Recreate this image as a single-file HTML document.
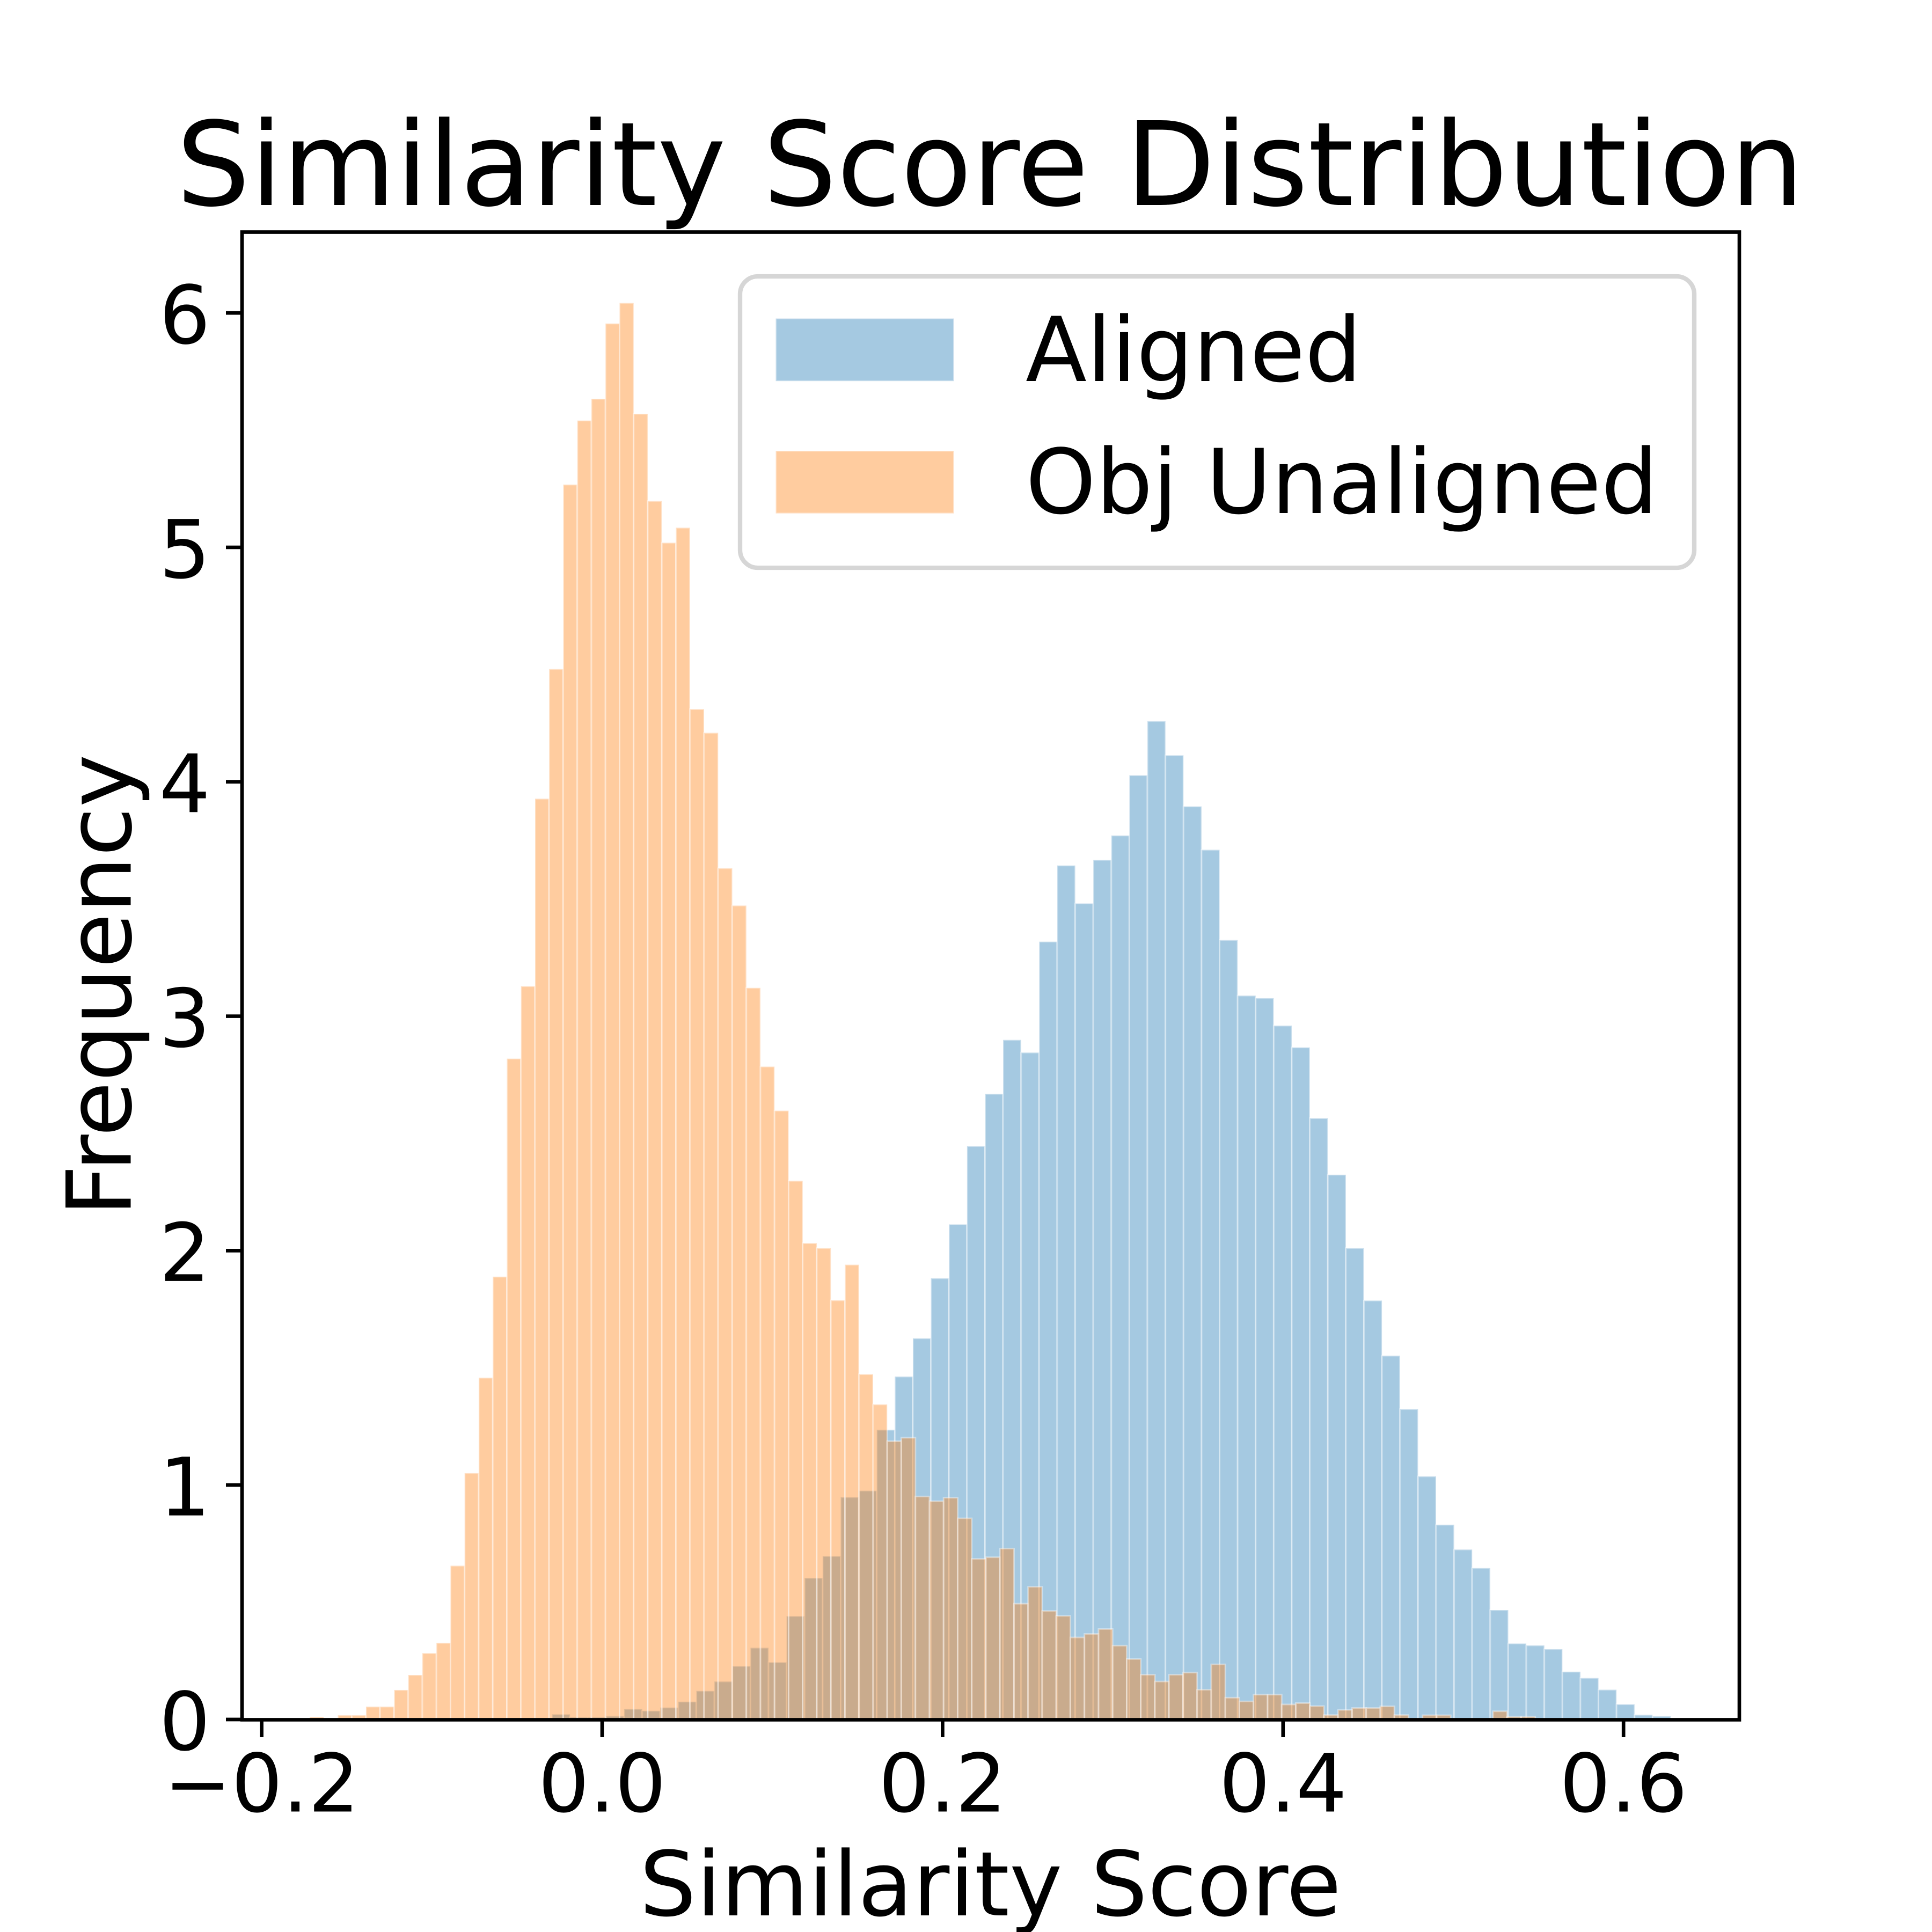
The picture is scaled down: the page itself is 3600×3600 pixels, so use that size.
<!DOCTYPE html>
<html lang="en">
<head>
<meta charset="utf-8">
<title>Similarity Score Distribution</title>
<style>
html,body{margin:0;padding:0;background:#fff;width:3600px;height:3600px;overflow:hidden}
svg{display:block}
text{font-family:"DejaVu Sans","Liberation Sans",sans-serif;fill:#000;text-rendering:geometricPrecision}
</style>
</head>
<body>
<svg id="chart" xmlns="http://www.w3.org/2000/svg" width="3600" height="3600" viewBox="0 0 3600 3600">
  <rect x="0" y="0" width="3600" height="3600" fill="#fff"/>
  <g id="bars"></g>
  <g id="ticks"></g>
  <rect x="451" y="432.5" width="2790" height="2772" fill="none" stroke="#000" stroke-width="6.67"/>
  <text x="1845" y="382" font-size="216.67" text-anchor="middle">Similarity Score Distribution</text>
  <text x="1845.5" y="3569" font-size="166.67" text-anchor="middle">Similarity Score</text>
  <text transform="translate(243.5 1836) rotate(-90)" font-size="166.67" text-anchor="middle">Frequency</text>
  <g>
    <rect x="1379" y="515" width="1778" height="543" rx="33" ry="33" fill="#fff" fill-opacity="0.8" stroke="#ccc" stroke-opacity="0.8" stroke-width="8.33"/>
    <rect x="1445.5" y="593.5" width="332" height="116.7" fill="#1f77b4" fill-opacity="0.4" stroke="#fff" stroke-opacity="0.4" stroke-width="3"/>
    <text x="1911" y="710" font-size="166.67">Aligned</text>
    <rect x="1445.5" y="840" width="332" height="116.7" fill="#ff7f0e" fill-opacity="0.4" stroke="#fff" stroke-opacity="0.4" stroke-width="3"/>
    <text x="1911" y="956" font-size="166.67">Obj Unaligned</text>
  </g>
</svg>
<script>
const alignedValues = [0.022,0.010,0.010,0.015,0.045,0.037,0.051,0.076,0.122,0.162,0.228,0.306,0.244,0.441,0.604,0.697,0.948,0.976,1.236,1.463,1.626,1.882,2.112,2.446,2.669,2.899,2.845,3.318,3.643,3.481,3.667,3.771,4.028,4.259,4.113,3.895,3.710,3.325,3.088,3.077,2.960,2.867,2.565,2.324,2.011,1.787,1.552,1.324,1.037,0.831,0.725,0.646,0.467,0.324,0.316,0.300,0.204,0.177,0.127,0.065,0.020,0.014];
const unalignedValues = [0.011,0,0.018,0.018,0.055,0.055,0.126,0.190,0.283,0.327,0.656,1.051,1.458,1.889,2.819,3.128,3.928,4.481,5.268,5.541,5.634,5.955,6.043,5.570,5.198,5.020,5.084,4.310,4.209,3.631,3.472,3.121,2.785,2.597,2.298,2.032,2.011,1.788,1.940,1.473,1.344,1.187,1.202,0.951,0.931,0.946,0.858,0.685,0.692,0.729,0.494,0.566,0.463,0.442,0.350,0.365,0.386,0.315,0.258,0.191,0.162,0.191,0.200,0.127,0.235,0.093,0.077,0.106,0.106,0.064,0.070,0.057,0.019,0.041,0.049,0.049,0.056,0.019,0,0.018,0.018,0,0,0,0.035,0.012,0.012];
const alignedBinStart = -0.029445;
const alignedBinWidth = 0.010599;
const unalignedBinStart = -0.17182;
const unalignedBinWidth = 0.0082755;
const xTickValues = [-0.2,0,0.2,0.4,0.6];
const xTickLabels = ["\u22120.2","0.0","0.2","0.4","0.6"];
const yTickValues = [0,1,2,3,4,5,6];
const yTickLabels = ["0","1","2","3","4","5","6"];

const SVG_NS = "http://www.w3.org/2000/svg";
const xDomain = [-0.21185,0.66772];
const yDomain = [0,6.346];
const plot = {left:450,right:3240,top:432,bottom:3204};
function xScale(v){return plot.left+(v-xDomain[0])/(xDomain[1]-xDomain[0])*(plot.right-plot.left);}
function yScale(v){return plot.bottom-(v-yDomain[0])/(yDomain[1]-yDomain[0])*(plot.bottom-plot.top);}

const barsGroup = document.getElementById("bars");
const ticksGroup = document.getElementById("ticks");

function drawAligned(){
  alignedValues.forEach(function(v,i){
    if(v<=0)return;
    const x0 = xScale(alignedBinStart+i*alignedBinWidth);
    const x1 = xScale(alignedBinStart+(i+1)*alignedBinWidth);
    const el = document.createElementNS(SVG_NS,"rect");
    
    
    el.setAttribute("x",x0);
    el.setAttribute("y",yScale(v));
    el.setAttribute("width",x1-x0);
    el.setAttribute("height",yScale(0)-yScale(v));
    el.setAttribute("fill","#1f77b4");
    el.setAttribute("fill-opacity","0.4");
    el.setAttribute("stroke","#fff");
    el.setAttribute("stroke-opacity","0.4");
    el.setAttribute("stroke-width","3");
    barsGroup.appendChild(el);
  });
}
function drawUnaligned(){
  unalignedValues.forEach(function(v,i){
    if(v<=0)return;
    const x0 = xScale(unalignedBinStart+i*unalignedBinWidth);
    const x1 = xScale(unalignedBinStart+(i+1)*unalignedBinWidth);
    const el = document.createElementNS(SVG_NS,"rect");
    
    
    el.setAttribute("x",x0);
    el.setAttribute("y",yScale(v));
    el.setAttribute("width",x1-x0);
    el.setAttribute("height",yScale(0)-yScale(v));
    el.setAttribute("fill","#ff7f0e");
    el.setAttribute("fill-opacity","0.4");
    el.setAttribute("stroke","#fff");
    el.setAttribute("stroke-opacity","0.4");
    el.setAttribute("stroke-width","3");
    barsGroup.appendChild(el);
  });
}
function drawXTicks(){
  xTickValues.forEach(function(v,i){
    const px = xScale(v);
    const line = document.createElementNS(SVG_NS,"line");
    
    
    line.setAttribute("x1",px);
    line.setAttribute("x2",px);
    line.setAttribute("y1",plot.bottom);
    line.setAttribute("y2",plot.bottom+33);
    line.setAttribute("stroke","#000");
    line.setAttribute("stroke-width","6.67");
    ticksGroup.appendChild(line);
    const label = document.createElementNS(SVG_NS,"text");
    
    
    label.setAttribute("x",px);
    label.setAttribute("y",plot.bottom+171.5);
    label.setAttribute("font-size","150");
    label.setAttribute("text-anchor","middle");
    label.textContent = xTickLabels[i];
    ticksGroup.appendChild(label);
  });
}
function drawYTicks(){
  yTickValues.forEach(function(v,i){
    const py = yScale(v);
    const line = document.createElementNS(SVG_NS,"line");
    
    
    line.setAttribute("x1",plot.left-29);
    line.setAttribute("x2",plot.left);
    line.setAttribute("y1",py);
    line.setAttribute("y2",py);
    line.setAttribute("stroke","#000");
    line.setAttribute("stroke-width","6.67");
    ticksGroup.appendChild(line);
    const label = document.createElementNS(SVG_NS,"text");
    
    
    label.setAttribute("x",plot.left-58);
    label.setAttribute("y",py+56.5);
    label.setAttribute("font-size","150");
    label.setAttribute("text-anchor","end");
    label.textContent = yTickLabels[i];
    ticksGroup.appendChild(label);
  });
}
drawAligned();
drawUnaligned();
drawXTicks();
drawYTicks();
</script>
</body>
</html>
